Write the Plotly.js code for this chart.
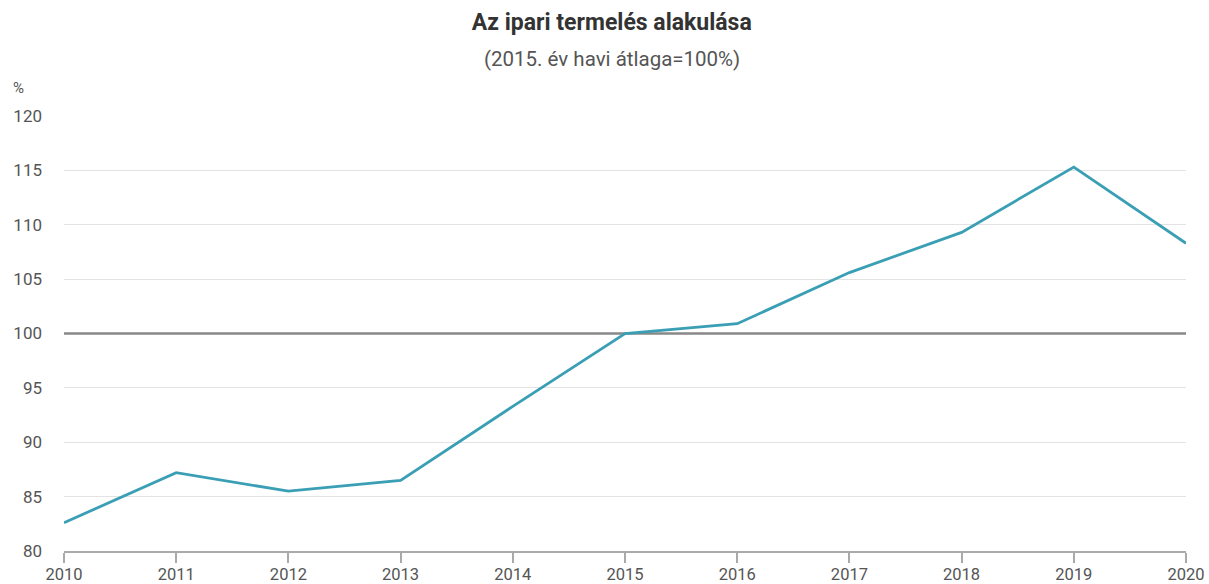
<!DOCTYPE html>
<html>
<head>
<meta charset="utf-8">
<script src="https://cdn.plot.ly/plotly-3.0.1.min.js"></script>
<style>html,body{margin:0;padding:0;background:#fff;}#chart{width:1209px;height:584px;}</style>
</head>
<body>
<div id="chart"></div>
<script>
const years = [2010, 2011, 2012, 2013, 2014, 2015, 2016, 2017, 2018, 2019, 2020];
const production = [82.6, 87.2, 85.5, 86.5, 93.3, 100.0, 100.9, 105.6, 109.3, 115.3, 108.3];
const yTicks = [80, 85, 90, 95, 100, 105, 110, 115, 120];
const titleText = 'Az ipari termelés alakulása';
const subtitleText = '(2015. év havi átlaga=100%)';
const unitText = '%';
const baseline = 100;

const baseTrace = {
  x: [years[0], years[years.length - 1]], y: [baseline, baseline], type: 'scatter', mode: 'lines',
  line: {color: '#888', width: 2.4}, hoverinfo: 'skip', cliponaxis: false
};
const trace = {
  x: years, y: production, type: 'scatter', mode: 'lines',
  line: {color: '#3a9fb5', width: 2.8},
  hoverinfo: 'x+y'
};

const layout = {
  width: 1209, height: 584,
  margin: {l: 64, r: 23, t: 116, b: 33},
  paper_bgcolor: '#fff', plot_bgcolor: '#fff',
  font: {family: 'Roboto, sans-serif', size: 17, color: '#555'},
  showlegend: false,
  title: {text: '<b>' + titleText + '</b>', x: 0.506, xanchor: 'center', y: 0.962, yanchor: 'middle',
          font: {family: 'Roboto, sans-serif', size: 23, color: '#333'}},
  xaxis: {
    range: [2010, 2020], tickvals: years, ticktext: years.map(String),
    showgrid: false, zeroline: false,
    showline: true, linecolor: '#aaa', linewidth: 1.5,
    ticks: 'outside', ticklen: 10, tickcolor: '#aaa', tickwidth: 1.5,
    ticklabelstandoff: -3,
    tickfont: {size: 16.5, color: '#555'}, fixedrange: true
  },
  yaxis: {
    range: [80, 120], tickvals: yTicks, ticktext: yTicks.map(String),
    showgrid: true, gridcolor: '#e3e3e3', gridwidth: 1.2,
    zeroline: false, showline: false, ticks: '',
    ticklabelstandoff: 21,
    tickfont: {size: 17, color: '#555'}, fixedrange: true
  },
  annotations: [
    {text: subtitleText, xref: 'paper', yref: 'paper', x: 0.488, y: 1.0, yshift: 57,
     xanchor: 'center', yanchor: 'middle', showarrow: false,
     font: {family: 'Roboto, sans-serif', size: 20.5, color: '#555'}},
    {text: unitText, xref: 'paper', yref: 'paper', x: 0, y: 1.0, xshift: -53, yshift: 28,
     xanchor: 'left', yanchor: 'middle', showarrow: false,
     font: {family: 'Roboto, sans-serif', size: 15, color: '#555'}}
  ]
};

Plotly.newPlot('chart', [baseTrace, trace], layout, {displayModeBar: false});
</script>
</body>
</html>
